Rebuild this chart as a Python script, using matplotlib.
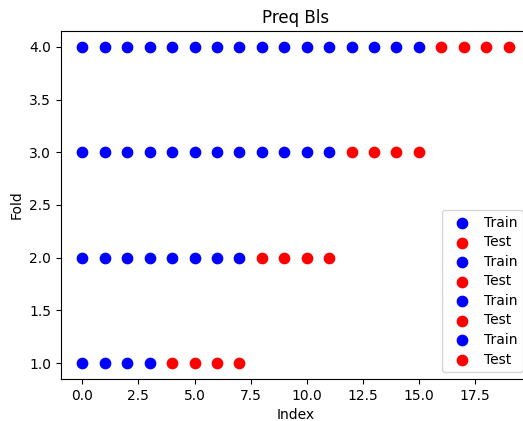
import matplotlib
matplotlib.use("Agg")
import matplotlib.pyplot as plt
import numpy as np

folds = [1, 2, 3, 4]
train_ends = [4, 8, 12, 16]   # train indices 0..end-1
test_sizes = [4, 4, 4, 4]     # test indices end..end+size-1
title = "Preq Bls"

fig = plt.figure(figsize=(5.23, 4.21), dpi=100)
ax = fig.add_axes([61/523, 42/421, 469/523, 348/421])

for fold, te, ts in zip(folds, train_ends, test_sizes):
    tr_idx = np.arange(0, te)
    te_idx = np.arange(te, te + ts)
    ax.scatter(tr_idx, [fold] * len(tr_idx), color='blue', s=55, label='Train')
    ax.scatter(te_idx, [fold] * len(te_idx), color='red', s=55, label='Test')

ax.set_title(title)
ax.set_xlabel("Index")
ax.set_ylabel("Fold")
ax.legend(loc='lower right', labelspacing=0.4, handletextpad=0.6)
fig.savefig("out.png", dpi=100)
